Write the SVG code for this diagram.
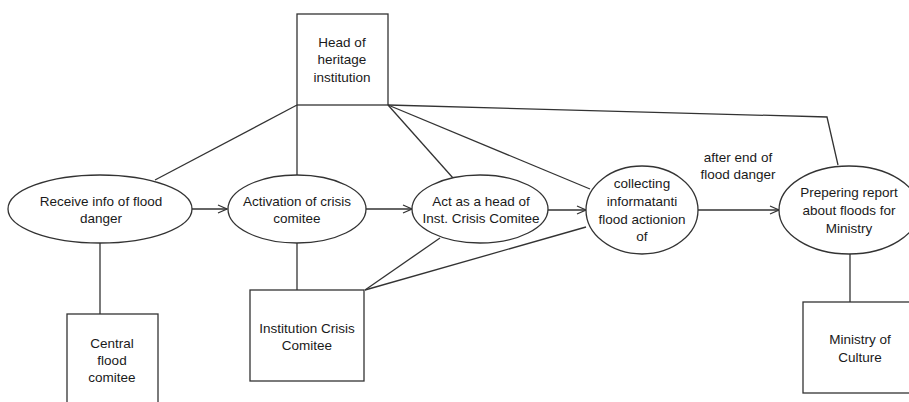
<svg xmlns="http://www.w3.org/2000/svg" width="909" height="402" viewBox="0 0 909 402">
<defs>
<marker id="arr" markerWidth="12" markerHeight="10" refX="10" refY="5" orient="auto" markerUnits="userSpaceOnUse">
<path d="M1,1 L10,5 L1,9" fill="none" stroke="#333" stroke-width="1.3"/>
</marker>
</defs>
<style>
.shape{fill:#fff;stroke:#333;stroke-width:1.3}
.edge{fill:none;stroke:#333;stroke-width:1.3}
text{font-family:"Liberation Sans",Arial,sans-serif;font-size:13.5px;fill:#1a1a1a;text-anchor:middle}
</style>
<rect width="909" height="402" fill="#fff"/>
<g id="connectors">
<path class="edge" d="M297,105 L155,180"/>
<path class="edge" d="M297,105 L297,175"/>
<path class="edge" d="M388,105 L453,178"/>
<path class="edge" d="M388,105 L590,189"/>
<path class="edge" d="M388,105 L827,117 L838,165"/>
<path class="edge" d="M100,243 L100,314"/>
<path class="edge" d="M297,243 L297,290"/>
<path class="edge" d="M365,290 L440,238"/>
<path class="edge" d="M365,290 L586,227"/>
<path class="edge" d="M850,254 L850,302"/>
<path class="edge" d="M192,209 L227,209" marker-end="url(#arr)"/>
<path class="edge" d="M366,209 L412,209" marker-end="url(#arr)"/>
<path class="edge" d="M548,210 L586,210" marker-end="url(#arr)"/>
<path class="edge" d="M698,210 L779,210" marker-end="url(#arr)"/>
<g id="label-after">
<text x="738" y="162">after end of</text>
<text x="738" y="179">flood danger</text>
</g>
</g>
<g id="head">
<rect class="shape" x="297" y="14" width="91" height="91"/>
<text x="342" y="46.5">Head of</text>
<text x="342" y="64">heritage</text>
<text x="342" y="82">institution</text>
</g>
<g id="receive">
<ellipse class="shape" cx="100" cy="209" rx="92" ry="34"/>
<text x="101" y="205.5">Receive info of flood</text>
<text x="101" y="223">danger</text>
</g>
<g id="activation">
<ellipse class="shape" cx="297" cy="209" rx="69" ry="34"/>
<text x="297" y="205.5">Activation of crisis</text>
<text x="297" y="223">comitee</text>
</g>
<g id="act">
<ellipse class="shape" cx="480" cy="209" rx="68" ry="34"/>
<text x="481" y="205.5">Act as a head of</text>
<text x="481" y="223">Inst. Crisis Comitee</text>
</g>
<g id="collecting">
<ellipse class="shape" cx="642" cy="210" rx="56" ry="44"/>
<text x="642" y="187.5">collecting</text>
<text x="642" y="205.5">informatanti</text>
<text x="642" y="223.5">flood actionion</text>
<text x="642" y="240.5">of</text>
</g>
<g id="report">
<ellipse class="shape" cx="849" cy="210" rx="70" ry="44"/>
<text x="849" y="196.5">Prepering report</text>
<text x="849" y="214.5">about floods for</text>
<text x="849" y="232.5">Ministry</text>
</g>
<g id="central">
<rect class="shape" x="67" y="314" width="91" height="91"/>
<text x="112" y="347.5">Central</text>
<text x="112" y="364.5">flood</text>
<text x="112" y="382">comitee</text>
</g>
<g id="institution">
<rect class="shape" x="250" y="290" width="114" height="91"/>
<text x="307" y="333">Institution Crisis</text>
<text x="307" y="350">Comitee</text>
</g>
<g id="ministry">
<rect class="shape" x="803" y="302" width="114" height="91"/>
<text x="860" y="344">Ministry  of</text>
<text x="860" y="361.5">Culture</text>
</g>
</svg>
